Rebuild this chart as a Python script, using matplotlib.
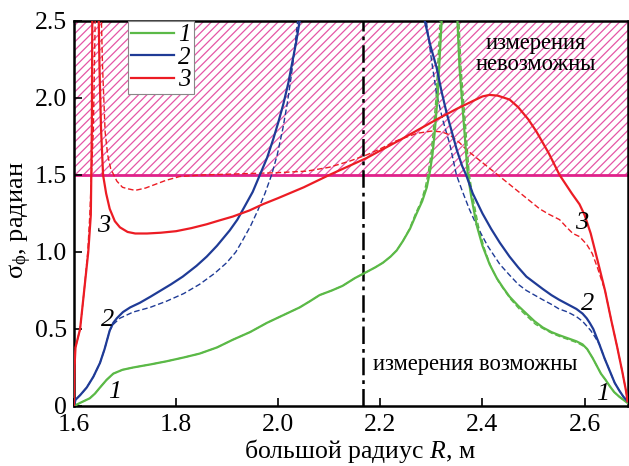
import numpy as np
import matplotlib.pyplot as plt

plt.rcParams['font.family'] = ['Liberation Serif', 'DejaVu Serif']
plt.rcParams['mathtext.fontset'] = 'custom'
plt.rcParams['mathtext.rm'] = 'Liberation Serif'
plt.rcParams['mathtext.it'] = 'Liberation Serif:italic'
plt.rcParams['hatch.linewidth'] = 0.9

nan = np.nan

# curve 1 (green), solid and dashed
r1 = [1.600, 1.612, 1.631, 1.641, 1.651, 1.664, 1.677, 1.695, 1.716, 1.750, 1.781, 1.815, 1.846,
      1.880, 1.911, 1.945, 1.978, 2.010, 2.042, 2.062, 2.081, 2.105, 2.126, 2.150, 2.173, 2.190,
      2.205, 2.220, 2.232, 2.244, 2.258, 2.271, 2.282, 2.291, 2.297, 2.302, 2.306, 2.309, 2.312,
      2.316, 2.320, 2.323, nan,
      2.349, 2.351, 2.353, 2.355, 2.360, 2.365, 2.371, 2.378, 2.389, 2.400, 2.414, 2.428, 2.440,
      2.453, 2.470, 2.486, 2.502, 2.518, 2.535, 2.550, 2.567, 2.584, 2.596, 2.605, 2.616, 2.624,
      2.632, 2.641, 2.649, 2.658, 2.668, 2.684]
s1 = [0.00, 0.02, 0.05, 0.08, 0.12, 0.17, 0.21, 0.235, 0.25, 0.27, 0.29, 0.315, 0.34,
      0.38, 0.43, 0.48, 0.54, 0.59, 0.64, 0.68, 0.72, 0.75, 0.78, 0.83, 0.87, 0.90,
      0.93, 0.97, 1.01, 1.07, 1.15, 1.25, 1.33, 1.42, 1.52, 1.63, 1.76, 1.88, 2.00,
      2.25, 2.50, 2.70, nan,
      2.70, 2.50, 2.35, 2.20, 1.98, 1.77, 1.51, 1.36, 1.17, 1.04, 0.92, 0.83, 0.77,
      0.71, 0.65, 0.60, 0.55, 0.51, 0.48, 0.46, 0.44, 0.42, 0.40, 0.37, 0.31, 0.26,
      0.21, 0.17, 0.13, 0.09, 0.06, 0.02]
r1d = [1.600, 1.612, 1.631, 1.641, 1.651, 1.664, 1.677, 1.695, 1.716, 1.750, 1.781, 1.815, 1.846,
       1.880, 1.911, 1.945, 1.978, 2.010, 2.042, 2.062, 2.081, 2.105, 2.126, 2.150, 2.173, 2.190,
       2.205, 2.220, 2.232, 2.244, 2.257, 2.269, 2.280, 2.288, 2.294, 2.299, 2.303, 2.306, 2.309,
       2.313, 2.317, 2.320, nan,
       2.352, 2.354, 2.356, 2.358, 2.363, 2.368, 2.374, 2.381, 2.392, 2.403, 2.417, 2.431, 2.443,
       2.456, 2.472, 2.488, 2.504, 2.520, 2.537, 2.552, 2.569, 2.586, 2.597, 2.605, 2.616, 2.624,
       2.632, 2.641, 2.649, 2.658, 2.668, 2.684]
s1d = [0.00, 0.02, 0.05, 0.08, 0.12, 0.17, 0.21, 0.235, 0.25, 0.27, 0.29, 0.315, 0.34,
       0.38, 0.43, 0.48, 0.54, 0.59, 0.64, 0.68, 0.72, 0.75, 0.78, 0.83, 0.87, 0.90,
       0.93, 0.97, 1.01, 1.07, 1.15, 1.25, 1.33, 1.42, 1.52, 1.63, 1.76, 1.88, 2.00,
       2.25, 2.50, 2.70, nan,
       2.70, 2.50, 2.35, 2.20, 1.98, 1.77, 1.51, 1.36, 1.17, 1.03, 0.90, 0.81, 0.75,
       0.69, 0.63, 0.58, 0.53, 0.50, 0.47, 0.45, 0.43, 0.41, 0.39, 0.37, 0.31, 0.26,
       0.21, 0.17, 0.13, 0.09, 0.06, 0.02]

# curve 2 (blue)
r2 = [1.600, 1.603, 1.612, 1.625, 1.638, 1.651, 1.660, 1.670, 1.677, 1.684, 1.696, 1.710, 1.729,
      1.750, 1.770, 1.790, 1.813, 1.840, 1.860, 1.880, 1.905, 1.920, 1.935, 1.950, 1.964, 1.978,
      1.990, 2.000, 2.010, 2.020, 2.028, 2.035, 2.042, 2.046, nan,
      2.284, 2.287, 2.298, 2.310, 2.320, 2.330, 2.340, 2.350, 2.360, 2.368, 2.381, 2.400, 2.417,
      2.434, 2.453, 2.470, 2.486, 2.502, 2.518, 2.535, 2.550, 2.567, 2.584, 2.596, 2.604, 2.610,
      2.617, 2.623, 2.629, 2.639, 2.649, 2.659, 2.668, 2.676, 2.684]
s2 = [0.00, 0.04, 0.07, 0.12, 0.19, 0.28, 0.37, 0.49, 0.54, 0.57, 0.61, 0.64, 0.67,
      0.71, 0.75, 0.79, 0.84, 0.91, 0.97, 1.04, 1.14, 1.21, 1.30, 1.39, 1.50, 1.61,
      1.73, 1.84, 1.96, 2.10, 2.24, 2.36, 2.50, 2.60, nan,
      2.60, 2.50, 2.34, 2.20, 2.04, 1.90, 1.78, 1.66, 1.56, 1.50, 1.38, 1.25, 1.15,
      1.06, 0.97, 0.90, 0.84, 0.80, 0.76, 0.72, 0.69, 0.66, 0.63, 0.60, 0.57, 0.54,
      0.50, 0.45, 0.40, 0.31, 0.23, 0.15, 0.10, 0.06, 0.03]
r2d = [1.600, 1.603, 1.612, 1.625, 1.638, 1.651, 1.660, 1.670, 1.677, 1.690, 1.716, 1.749, 1.781,
       1.815, 1.846, 1.875, 1.899, 1.917, 1.931, 1.946, 1.960, 1.974, 1.987, 1.998, 2.009, 2.018,
       2.025, 2.032, 2.038, 2.041, nan,
       2.287, 2.290, 2.300, 2.310, 2.322, 2.336, 2.349, 2.360, 2.374, 2.389, 2.410, 2.434, 2.453,
       2.470, 2.486, 2.502, 2.518, 2.535, 2.550, 2.567, 2.584, 2.596, 2.604, 2.612, 2.620, 2.629,
       2.639, 2.649, 2.659, 2.668, 2.676, 2.684]
s2d = [0.00, 0.04, 0.07, 0.12, 0.19, 0.28, 0.37, 0.49, 0.53, 0.57, 0.61, 0.64, 0.68,
       0.73, 0.79, 0.86, 0.93, 1.00, 1.08, 1.17, 1.27, 1.38, 1.50, 1.63, 1.80, 1.97,
       2.13, 2.31, 2.50, 2.60, nan,
       2.60, 2.50, 2.25, 2.03, 1.86, 1.70, 1.50, 1.40, 1.28, 1.17, 1.04, 0.92, 0.85,
       0.79, 0.75, 0.72, 0.69, 0.66, 0.63, 0.61, 0.58, 0.55, 0.52, 0.49, 0.45, 0.40,
       0.31, 0.23, 0.15, 0.10, 0.06, 0.03]

# curve 3 (red)
r3 = [1.600, 1.601, 1.603, 1.612, 1.620, 1.628, 1.633, 1.635, 1.636, nan,
      1.648, 1.650, 1.653, 1.657, 1.663, 1.670, 1.680, 1.690, 1.705, 1.720, 1.743, 1.770, 1.800,
      1.830, 1.860, 1.885, 1.911, 1.944, 1.970, 2.000, 2.050, 2.100, 2.173, 2.240, 2.310, 2.350,
      2.381, 2.400, 2.414, 2.430, 2.453, 2.470, 2.490, 2.506, 2.530, 2.551, 2.575, 2.590, 2.600,
      2.612, 2.625, 2.640, 2.652, 2.664, 2.674, 2.681, 2.684]
s3 = [0.00, 0.25, 0.38, 0.50, 0.75, 1.00, 1.24, 1.80, 2.60, nan,
      2.60, 2.20, 1.80, 1.50, 1.38, 1.28, 1.20, 1.16, 1.13, 1.12, 1.12, 1.125, 1.135,
      1.155, 1.18, 1.205, 1.23, 1.27, 1.31, 1.35, 1.42, 1.50, 1.61, 1.73, 1.86, 1.93,
      1.98, 2.01, 2.02, 2.015, 1.99, 1.94, 1.86, 1.78, 1.64, 1.50, 1.38, 1.31, 1.24,
      1.12, 0.95, 0.75, 0.56, 0.38, 0.22, 0.10, 0.03]
r3d = [1.600, 1.601, 1.603, 1.612, 1.620, 1.627, 1.631, 1.638, 1.642, nan,
       1.653, 1.656, 1.661, 1.666, 1.672, 1.684, 1.695, 1.706, 1.720, 1.740, 1.760, 1.780, 1.807,
       1.850, 1.900, 1.950, 2.000, 2.056, 2.100, 2.140, 2.173, 2.200, 2.230, 2.271, 2.300, 2.320,
       2.336, 2.355, 2.370, 2.385, 2.400, 2.434, 2.460, 2.486, 2.512, 2.530, 2.551, 2.565, 2.577,
       2.590, 2.604, 2.615, 2.625, 2.632, 2.640, 2.652, 2.664, 2.674, 2.681, 2.684]
s3d = [0.00, 0.25, 0.38, 0.50, 0.75, 1.00, 1.24, 1.80, 2.60, nan,
       2.60, 2.20, 1.78, 1.63, 1.54, 1.46, 1.42, 1.41, 1.40, 1.415, 1.44, 1.465, 1.49,
       1.50, 1.505, 1.51, 1.515, 1.525, 1.55, 1.59, 1.63, 1.67, 1.72, 1.77, 1.785, 1.78,
       1.76, 1.71, 1.66, 1.62, 1.58, 1.49, 1.42, 1.35, 1.28, 1.245, 1.21, 1.16, 1.12,
       1.10, 1.05, 0.99, 0.90, 0.83, 0.75, 0.56, 0.38, 0.22, 0.10, 0.03]

green = '#5bb947'
blue = '#1f3b96'
red = '#ec1c24'
magenta = '#e0218a'
hatch_col = '#e556a6'

x_ticks = [1.6, 1.8, 2.0, 2.2, 2.4, 2.6]
x_labels = ['1.6', '1.8', '2.0', '2.2', '2.4', '2.6']
y_ticks = [0, 0.5, 1.0, 1.5, 2.0, 2.5]
y_labels = ['0', '0.5', '1.0', '1.5', '2.0', '2.5']

r_sep = 2.167
limit = 1.5

fig = plt.figure(figsize=(6.29, 4.66), dpi=100)
ax = fig.add_axes([0.1176, 0.1288, 0.8808, 0.8262])

ax.axhspan(limit, 2.5, facecolor='white', edgecolor=hatch_col, hatch='////', linewidth=0, zorder=0)
ax.axhline(limit, color=magenta, lw=2.0, zorder=1)
ax.axvline(r_sep, color='black', lw=1.8, dashes=(7, 2, 1.5, 2), zorder=2)

ax.plot(r1d, s1d, color=green, lw=1.0, dashes=(4, 2), zorder=3)
ax.plot(r2d, s2d, color=blue, lw=1.0, dashes=(4, 2), zorder=3)
ax.plot(r3d, s3d, color=red, lw=1.0, dashes=(4, 2), zorder=3)
ax.plot(r1, s1, color=green, lw=1.6, label='1', zorder=4)
ax.plot(r2, s2, color=blue, lw=1.6, label='2', zorder=4)
ax.plot(r3, s3, color=red, lw=1.6, label='3', zorder=4)

ax.set_xlim(1.6, 2.685)
ax.set_ylim(0, 2.5)
ax.set_xticks(x_ticks)
ax.set_xticklabels(x_labels)
ax.set_yticks(y_ticks)
ax.set_yticklabels(y_labels)
ax.tick_params(direction='in', length=6, width=1.2, labelsize=18.5)
ax.tick_params(axis='x', pad=6)
ax.tick_params(axis='y', pad=5)
for sp in ax.spines.values():
    sp.set_linewidth(1.8)

ax.set_xlabel('большой радиус $R$, м', fontsize=18.5, va='baseline')
ax.xaxis.set_label_coords(0.516, -0.136)
ax.set_ylabel('σ$_\\mathrm{ϕ}$, радиан', fontsize=19)
ax.yaxis.set_label_coords(-0.072, 0.483)

leg = ax.legend(loc='upper left', bbox_to_anchor=(0.097, 1.0), borderaxespad=0,
                fancybox=False, framealpha=1, edgecolor='#888888', handlelength=1.75,
                labelspacing=0.0, borderpad=0.12, handletextpad=0.15,
                prop={'size': 18, 'style': 'italic'})
leg.get_frame().set_linewidth(0.8)

lab = dict(fontsize=19, style='italic', ha='center', va='center', zorder=5)
ax.text(1.659, 1.17, '3', **lab)
ax.text(1.665, 0.56, '2', **lab)
ax.text(1.680, 0.09, '1', **lab)
ax.text(2.594, 1.19, '3', **lab)
ax.text(2.606, 0.66, '2', **lab)
ax.text(2.635, 0.08, '1', **lab)

ax.text(2.504, 2.286, 'измерения\nневозможны', fontsize=16.3, ha='center', va='center',
        linespacing=0.95, zorder=5)
ax.text(2.385, 0.27, 'измерения возможны', fontsize=16.3, ha='center', va='center', zorder=5)

fig.savefig('out.png', dpi=100)
